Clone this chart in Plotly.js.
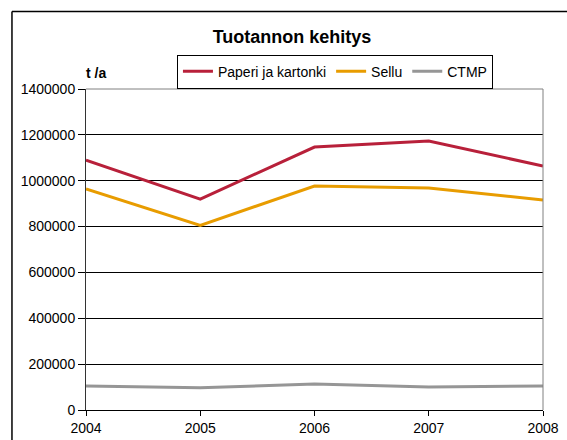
<!DOCTYPE html>
<html>
<head>
<meta charset="utf-8">
<script src="https://cdn.plot.ly/plotly-3.0.1.min.js"></script>
<style>
  body { margin: 0; background: #fff; }
  #chart { width: 567px; height: 440px; }
</style>
</head>
<body>
<div id="chart"></div>
<script>
// years on the category axis
const years = [2004, 2005, 2006, 2007, 2008];

// production, t/a
const paperi = [1090000, 920000, 1147000, 1173000, 1064000];
const sellu = [964000, 805000, 977000, 968000, 916000];
const ctmp = [105000, 97000, 113000, 100000, 105000];

const seriesNames = ["Paperi ja kartonki", "Sellu", "CTMP"];
const colors = ["#b8203a", "#e89c00", "#969696"];

const traces = [paperi, sellu, ctmp].map((vals, i) => ({
    x: years,
    y: vals,
    name: seriesNames[i],
    type: "scatter",
    mode: "lines",
    line: { color: colors[i], width: 3 },
    hoverinfo: "none"
}));

// plot area in pixels: left 86, right 543, top 89, bottom 410
const layout = {
    width: 567,
    height: 440,
    paper_bgcolor: "#ffffff",
    plot_bgcolor: "#ffffff",
    font: { family: "Liberation Sans, Arial, sans-serif", size: 14, color: "#000" },
    margin: { l: 86, r: 24, t: 89, b: 30 },
    title: {
        text: "<b>Tuotannon kehitys</b>",
        font: { size: 18, color: "#000" },
        x: 0.515,
        xref: "container",
        xanchor: "center",
        y: 0.916,
        yref: "container",
        yanchor: "middle"
    },
    xaxis: {
        type: "linear",
        range: [2004, 2008],
        tickvals: years,
        ticktext: years.map(String),
        ticks: "outside",
        ticklen: 5,
        tickcolor: "#000",
        showgrid: false,
        showline: true,
        linecolor: "#000",
        linewidth: 1,
        zeroline: false,
        ticklabelstandoff: 0,
        tickfont: { size: 14 }
    },
    yaxis: {
        range: [0, 1400000],
        dtick: 200000,
        tickformat: "d",
        ticks: "outside",
        ticklen: 7,
        tickcolor: "#000",
        showgrid: true,
        gridcolor: "#000",
        gridwidth: 1,
        showline: true,
        linecolor: "#333",
        linewidth: 1,
        zeroline: false,
        tickfont: { size: 14 }
    },
    showlegend: true,
    legend: {
        orientation: "h",
        x: 0.199,
        xanchor: "left",
        y: 1.107,
        yanchor: "top",
        bgcolor: "#fff",
        bordercolor: "#000",
        borderwidth: 1,
        font: { size: 14 },
        itemwidth: 30,
        tracegroupgap: 0
    },
    annotations: [{
        text: "<b>t /a</b>",
        xref: "paper",
        yref: "paper",
        x: -0.005,
        y: 1.05,
        xanchor: "left",
        yanchor: "middle",
        showarrow: false,
        font: { size: 14 }
    }],
    shapes: [
        // plot area top and right edges (grey)
        { type: "line", xref: "paper", yref: "paper", x0: 0, x1: 1, y0: 1, y1: 1,
          line: { color: "#808080", width: 1 } },
        { type: "line", xref: "paper", yref: "paper", x0: 1, x1: 1, y0: 0, y1: 1,
          line: { color: "#808080", width: 1 } },
        // outer chart frame, left and top edges
        { type: "line", xref: "paper", yref: "paper", x0: -0.162, x1: -0.162, y0: -0.2, y1: 1.2414,
          line: { color: "#000", width: 1.5 } },
        { type: "line", xref: "paper", yref: "paper", x0: -0.162, x1: 1.2, y0: 1.2414, y1: 1.2414,
          line: { color: "#000", width: 1.5 } }
    ]
};

Plotly.newPlot("chart", traces, layout, { displayModeBar: false, staticPlot: true });
</script>
</body>
</html>
